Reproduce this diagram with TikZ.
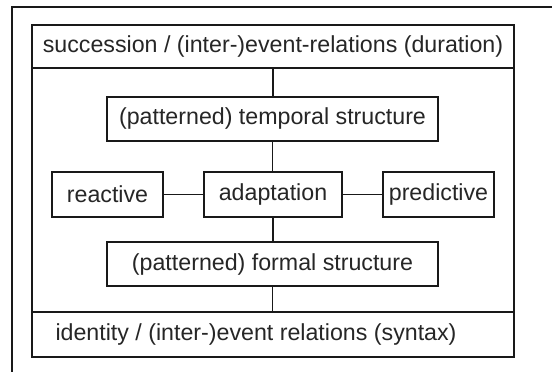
\documentclass[tikz,border=0pt]{standalone}
\usepackage{fontspec}
\setmainfont{Liberation Sans}
\begin{document}
\begin{tikzpicture}[x=1pt,y=-1pt,
  box/.style={draw=black!90, line width=1.8pt, inner sep=0pt, text=black!85,
    font=\fontsize{23.2}{26}\selectfont},
  link/.style={draw=black!90, line width=1.8pt},
  lbl/.style={inner sep=0pt, text=black!85, font=\fontsize{23.2}{26}\selectfont}]
\useasboundingbox (0,0) rectangle (552,372);
\fill[white] (0,0) rectangle (552,372);
% outer partial frame
\draw[link] (12,372) -- (12,7) -- (553,7);
% main box
\node[box, minimum width=482pt, minimum height=332pt] (main) at (273,191) {};
\node[box, minimum width=482pt, minimum height=43pt] (head) at (273,46.5) {succession / (inter-)event-relations (duration)};
\node[box, minimum width=482pt, minimum height=45pt] (foot) at (273,334.5) {};
\node[lbl] (footlbl) at (256,334.5) {identity / (inter-)event relations (syntax)};
\node[box, minimum width=331pt, minimum height=44pt] (temp) at (272.5,119) {(patterned) temporal structure};
\node[box, minimum width=111pt, minimum height=45pt] (react) at (107.5,194.5) {reactive};
\node[box, minimum width=138pt, minimum height=45pt] (adapt) at (273,194.5) {adaptation};
\node[box, minimum width=111pt, minimum height=45pt] (pred) at (438.5,194.5) {predictive};
\node[box, minimum width=331pt, minimum height=44pt] (form) at (272.5,264) {(patterned) formal structure};
\draw[link] (head.south) -- (head.south |- temp.north);
\draw[link] (temp.south) -- (temp.south |- adapt.north);
\draw[link] (adapt.south) -- (adapt.south |- form.north);
\draw[link] (form.south) -- (form.south |- foot.north);
\draw[link] (react.east) -- (adapt.west);
\draw[link] (adapt.east) -- (pred.west);
\end{tikzpicture}
\end{document}
